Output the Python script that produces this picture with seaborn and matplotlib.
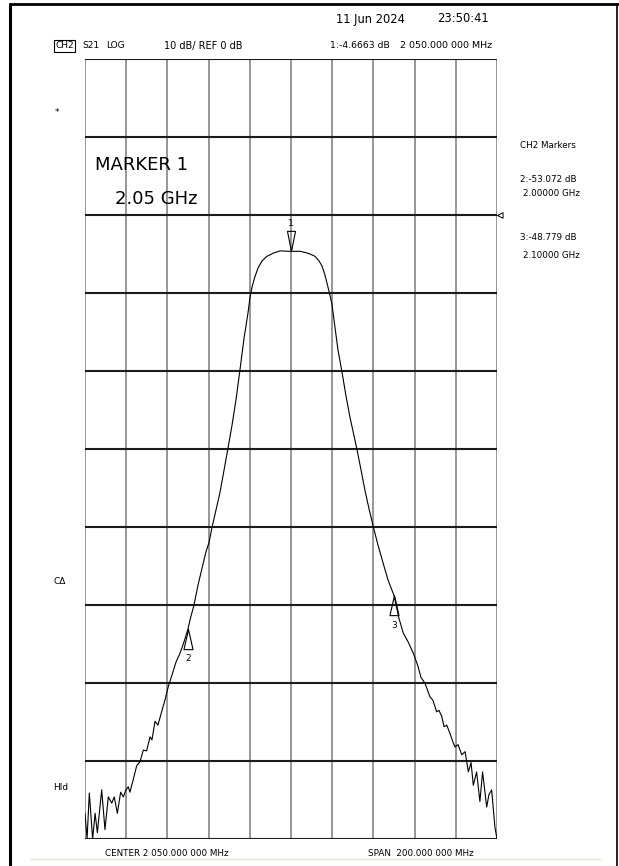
import numpy as np
import pandas as pd
import matplotlib
matplotlib.use('Agg')
import matplotlib.pyplot as plt
from matplotlib.lines import Line2D
import seaborn as sns

# S21 trace (MHz, dB)
freq_mhz = [1950.0, 1951.0, 1952.1, 1953.7, 1954.9, 1956.0, 1958.1, 1959.7, 1961.3, 1963.0,
            1964.2, 1965.7, 1967.3, 1968.6, 1969.9, 1971.0, 1971.8, 1973.4, 1975.1, 1976.7,
            1978.3, 1979.9, 1981.6, 1982.5, 1984.0, 1985.4, 1987.4, 1988.8, 1990.4, 1992.2,
            1994.2, 1996.1, 1998.1, 2000.0, 2001.0, 2002.9, 2004.9, 2006.8, 2008.7, 2010.2,
            2011.7, 2013.6, 2015.5, 2017.5, 2019.4, 2021.4, 2023.3, 2025.2, 2027.2, 2029.1,
            2030.1, 2031.1, 2032.5, 2034.0, 2035.9, 2038.3, 2041.3, 2044.7, 2050.0, 2054.4,
            2056.8, 2059.2, 2061.7, 2063.6, 2065.0, 2066.5, 2068.1, 2069.8, 2071.4, 2072.8,
            2074.6, 2076.7, 2078.6, 2081.9, 2084.0, 2085.9, 2087.9, 2090.0, 2092.2, 2094.8,
            2097.1, 2100.0, 2102.4, 2104.5, 2106.8, 2109.4, 2111.7, 2113.1, 2115.0, 2117.5,
            2118.9, 2120.7, 2121.8, 2123.2, 2124.3, 2125.6, 2127.2, 2128.8, 2129.6, 2131.1,
            2132.9, 2134.5, 2136.1, 2137.4, 2138.5, 2140.1, 2141.7, 2143.0, 2145.0, 2146.1,
            2147.4, 2149.0, 2150.0]
s21_db = [-76.7, -80.0, -74.1, -80.0, -76.7, -79.2, -73.7, -78.8, -74.6, -75.4,
          -74.6, -76.7, -74.0, -74.6, -73.7, -73.3, -74.0, -72.4, -70.6, -70.1,
          -68.6, -68.7, -66.9, -67.3, -64.9, -65.4, -63.5, -62.2, -60.5, -59.0,
          -57.3, -56.2, -54.7, -53.07, -51.9, -50.0, -47.4, -45.3, -43.2, -42.0,
          -40.0, -37.8, -35.6, -32.7, -29.9, -26.9, -23.7, -19.9, -15.8, -12.6,
          -10.6, -9.2, -7.9, -6.8, -5.9, -5.3, -4.9, -4.6, -4.67, -4.65,
          -4.8, -5.0, -5.3, -5.9, -6.5, -7.7, -9.4, -11.3, -14.5, -17.3,
          -19.9, -23.2, -25.9, -29.9, -32.7, -35.3, -37.7, -40.0, -42.3, -44.7,
          -46.8, -48.78, -51.7, -53.6, -54.7, -56.2, -57.9, -59.3, -60.0, -61.8,
          -62.2, -63.7, -63.5, -64.3, -65.6, -65.4, -66.5, -67.7, -68.2, -67.9,
          -69.2, -68.8, -71.4, -70.2, -73.1, -71.4, -75.2, -71.4, -75.9, -74.3,
          -73.7, -78.5, -80.0]

marker_ids = ['1', '2', '3']
marker_freq = [2050.0, 2000.0, 2100.0]
marker_db = [-4.6663, -53.072, -48.779]

x_ticks = np.arange(1950, 2151, 20)
y_ticks = np.arange(-80, 21, 10)

df = pd.DataFrame({'freq': freq_mhz, 's21': s21_db})

W, H = 619, 866
sns.set_theme(style='white')
plt.rcParams['font.family'] = ['DejaVu Sans']
plt.rcParams['text.color'] = 'black'

fig = plt.figure(figsize=(W / 100, H / 100), dpi=100)
fig.patch.set_facecolor('white')


def px(x, y):
    return x / W, 1 - y / H


ax = fig.add_axes([85 / W, 1 - 839 / H, 412 / W, 780 / H])
ax.set_xlim(1950, 2150)
ax.set_ylim(-80, 20)
ax.set_xticks([])
ax.set_yticks([])
for s in ax.spines.values():
    s.set_visible(False)

for xv in x_ticks:
    ax.axvline(xv, color='#7a7a7a', lw=1.1, zorder=1)
for yv in y_ticks:
    ax.axhline(yv, color='#1c1c1c', lw=1.5, zorder=1)

sns.lineplot(data=df, x='freq', y='s21', ax=ax, color='black', lw=0.8,
             estimator=None, zorder=3)
ax.set_xlabel('')
ax.set_ylabel('')

# marker triangles, tip on the trace
down_tri = [(0, 0), (-0.2, 1), (0.2, 1), (0, 0)]
up_tri = [(0, 0), (-0.225, -1), (0.225, -1), (0, 0)]
for mid, mf, md in zip(marker_ids, marker_freq, marker_db):
    if mid == '1':
        ax.plot(mf, md, marker=down_tri, ms=29, mfc='none', mec='black', mew=0.8,
                zorder=4, clip_on=False)
        ax.annotate(mid, (mf, md), xytext=(0, 20), textcoords='offset points',
                    ha='center', va='center', fontsize=6.5)
    else:
        ax.plot(mf, md, marker=up_tri, ms=29, mfc='none', mec='black', mew=0.8,
                zorder=4, clip_on=False)
        ax.annotate(mid, (mf, md), xytext=(0, -21.5), textcoords='offset points',
                    ha='center', va='center', fontsize=6.5)

# reference position arrow on the right edge
ref_tri = [(0, 0), (1, 0.5), (1, -0.5), (0, 0)]
ax.plot(2150, 0, marker=ref_tri, ms=8, mfc='white', mec='black', mew=0.7,
        clip_on=False, zorder=5)

# header
fig.text(*px(336, 19), '11 Jun 2024', fontsize=8.3, va='center', ha='left')
fig.text(*px(489, 19), '23:50:41', fontsize=8.3, va='center', ha='right')
fig.text(*px(55, 46), 'CH2', fontsize=6.5, va='center', ha='left',
         bbox=dict(boxstyle='square,pad=0.15', fc='none', ec='black', lw=0.8))
fig.text(*px(82, 46), 'S21', fontsize=6.5, va='center', ha='left')
fig.text(*px(106, 46), 'LOG', fontsize=6.5, va='center', ha='left')
fig.text(*px(164, 46), '10 dB/ REF 0 dB', fontsize=7, va='center', ha='left')
fig.text(*px(330, 46), '1:-4.6663 dB', fontsize=6.7, va='center', ha='left')
fig.text(*px(492, 46), '2 050.000 000 MHz', fontsize=6.8, va='center', ha='right')

# big marker readout
fig.text(*px(95, 165), 'MARKER 1', fontsize=13, va='center', ha='left')
fig.text(*px(115, 199), '2.05 GHz', fontsize=13, va='center', ha='left')

# marker list on the right
fig.text(*px(520, 145), 'CH2 Markers', fontsize=6.3, va='center', ha='left')
fig.text(*px(520, 179), '2:-53.072 dB', fontsize=6.3, va='center', ha='left')
fig.text(*px(523, 193), '2.00000 GHz', fontsize=6.3, va='center', ha='left')
fig.text(*px(520, 238), '3:-48.779 dB', fontsize=6.3, va='center', ha='left')
fig.text(*px(523, 256), '2.10000 GHz', fontsize=6.3, va='center', ha='left')

# status flags on the left
fig.text(*px(55, 113), '*', fontsize=6.5, va='center', ha='left')
fig.text(*px(53, 582), 'CΔ', fontsize=6.5, va='center', ha='left')
fig.text(*px(53, 788), 'Hld', fontsize=6.5, va='center', ha='left')

# footer
fig.text(*px(105, 853), 'CENTER 2 050.000 000 MHz', fontsize=6.3, va='center', ha='left')
fig.text(*px(368, 853), 'SPAN  200.000 000 MHz', fontsize=6.3, va='center', ha='left')

# screenshot frame
fig.add_artist(Line2D([10 / W, 10 / W], [0, 1 - 4 / H], color='black', lw=2.2))
fig.add_artist(Line2D([10 / W, 1], [1 - 4 / H, 1 - 4 / H], color='black', lw=2.0))
fig.add_artist(Line2D([617 / W, 617 / W], [0, 1 - 4 / H], color='black', lw=1.2))
fig.add_artist(Line2D([30 / W, 600 / W], [1 - 859 / H, 1 - 859 / H], color='#e6e2d3', lw=1.0))

fig.savefig('out.png', dpi=100, facecolor='white')
